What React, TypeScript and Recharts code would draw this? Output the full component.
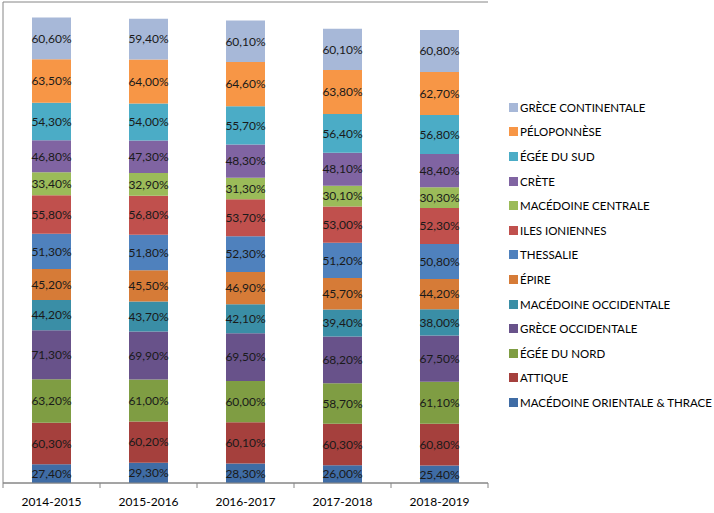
import React from 'react';
import { BarChart, Bar, XAxis, YAxis, CartesianGrid, Legend, LabelList } from 'recharts';

const years = ['2014-2015', '2015-2016', '2016-2017', '2017-2018', '2018-2019'];

const regions = [
  'MACÉDOINE ORIENTALE & THRACE',
  'ATTIQUE',
  'ÉGÉE DU NORD',
  'GRÈCE OCCIDENTALE',
  'MACÉDOINE OCCIDENTALE',
  'ÉPIRE',
  'THESSALIE',
  'ILES IONIENNES',
  'MACÉDOINE CENTRALE',
  'CRÈTE',
  'ÉGÉE DU SUD',
  'PÉLOPONNÈSE',
  'GRÈCE CONTINENTALE',
];

const macOrientale = [27.4, 29.3, 28.3, 26.0, 25.4];
const attique = [60.3, 60.2, 60.1, 60.3, 60.8];
const egeeNord = [63.2, 61.0, 60.0, 58.7, 61.1];
const greceOcc = [71.3, 69.9, 69.5, 68.2, 67.5];
const macOcc = [44.2, 43.7, 42.1, 39.4, 38.0];
const epire = [45.2, 45.5, 46.9, 45.7, 44.2];
const thessalie = [51.3, 51.8, 52.3, 51.2, 50.8];
const ilesIoniennes = [55.8, 56.8, 53.7, 53.0, 52.3];
const macCentrale = [33.4, 32.9, 31.3, 30.1, 30.3];
const crete = [46.8, 47.3, 48.3, 48.1, 48.4];
const egeeSud = [54.3, 54.0, 55.7, 56.4, 56.8];
const peloponnese = [63.5, 64.0, 64.6, 63.8, 62.7];
const greceCont = [60.6, 59.4, 60.1, 60.1, 60.8];

const seriesValues = [
  macOrientale, attique, egeeNord, greceOcc, macOcc, epire,
  thessalie, ilesIoniennes, macCentrale, crete, egeeSud, peloponnese, greceCont,
];

const yTicks = [0, 100, 200, 300, 400, 500, 600, 700];

const COLORS = [
  '#3F6CA5', '#A5403D', '#7F9D43', '#68528A', '#3A8EA6', '#D67B37',
  '#4F81BD', '#C0504D', '#9BBB59', '#8064A2', '#4BACC6', '#F79646', '#A7B8D8',
];

const data = years.map((year, i) => {
  const row: Record<string, string | number> = { year };
  regions.forEach((r, s) => {
    row[`s${s}`] = seriesValues[s][i];
  });
  return row;
});

const WIDTH = 714;
const HEIGHT = 513;
const MARGIN = { top: 2, right: 226, bottom: 0, left: 0 };
const Y_AXIS_W = 3;
const BAND = (WIDTH - MARGIN.left - MARGIN.right - Y_AXIS_W) / years.length;
const FONT = 'Lato, "Open Sans", sans-serif';

const fmt = (v: any) => `${Number(v).toFixed(2).replace('.', ',')}%`;

const XTick = (props: any) => {
  const { x, y, payload, index } = props;
  return (
    <g>
      <line x1={x - BAND / 2} x2={x - BAND / 2} y1={y} y2={y + 5} stroke="#868686" />
      {index === years.length - 1 && (
        <line x1={x + BAND / 2} x2={x + BAND / 2} y1={y} y2={y + 5} stroke="#868686" />
      )}
      <text x={x} y={y + 18} textAnchor="middle" dominantBaseline="central" fontSize={12} fill="#000" fontFamily={FONT}>
        {payload.value}
      </text>
    </g>
  );
};

const renderLegend = () => (
  <div style={{ fontFamily: FONT, fontSize: 11.5, color: '#000' }}>
    {regions
      .map((name, i) => ({ name, color: COLORS[i] }))
      .reverse()
      .map((item) => (
        <div key={item.name} style={{ display: 'flex', alignItems: 'center', height: 24.6 }}>
          <span style={{ width: 9, height: 9, background: item.color, marginRight: 2, display: 'inline-block' }} />
          <span style={{ whiteSpace: 'nowrap' }}>{item.name}</span>
        </div>
      ))}
  </div>
);

export default function App() {
  return (
    <div style={{ position: 'absolute', left: 0, top: 0, width: WIDTH, height: HEIGHT, background: '#fff' }}>
      <BarChart width={WIDTH} height={HEIGHT} data={data} margin={MARGIN} barSize={39}>
        <CartesianGrid vertical={false} stroke="#868686" />
        <XAxis
          dataKey="year"
          axisLine={{ stroke: '#868686' }}
          tickLine={false}
          tickSize={0}
          tickMargin={0}
          tick={<XTick />}
          height={30}
          interval={0}
        />
        <YAxis
          width={Y_AXIS_W}
          domain={[0, 700]}
          ticks={yTicks}
          tick={false}
          tickSize={3}
          axisLine={{ stroke: '#868686' }}
          tickLine={{ stroke: '#868686' }}
        />
        <Legend
          layout="vertical"
          align="center"
          verticalAlign="middle"
          content={renderLegend}
          wrapperStyle={{ left: 509, top: 95, width: 205 }}
        />
        {regions.map((name, i) => (
          <Bar key={name} dataKey={`s${i}`} name={name} stackId="a" fill={COLORS[i]} isAnimationActive={false}>
            <LabelList
              dataKey={`s${i}`}
              position="center"
              formatter={fmt}
              fill="#1a1a1a"
              fontSize={12}
              fontFamily={FONT}
            />
          </Bar>
        ))}
      </BarChart>
    </div>
  );
}
